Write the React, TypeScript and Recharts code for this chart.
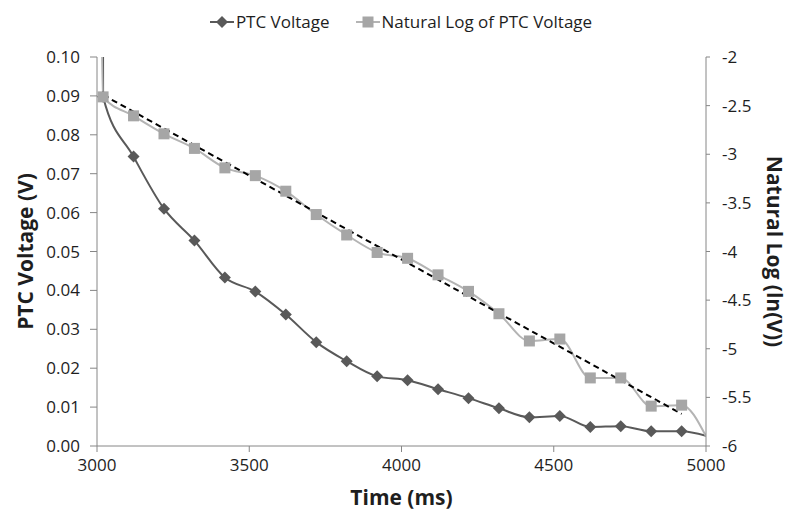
import React from "react";
import { ComposedChart, Line, XAxis, YAxis, Label } from "recharts";

// ---- data ----
const timeMs = [
  3010, 3020, 3120, 3220, 3320, 3420, 3520, 3620, 3720, 3820, 3920, 4020, 4120,
  4220, 4320, 4420, 4520, 4620, 4720, 4820, 4920, 5000,
];
const ptcVoltage = [
  0.9, 0.0898, 0.0744, 0.061, 0.0528, 0.0433, 0.0397, 0.0338, 0.0267, 0.0218,
  0.0179, 0.0169, 0.0146, 0.0123, 0.0097, 0.0074, 0.0077, 0.0049, 0.0051,
  0.0038, 0.0038, 0.0026,
];
const lnVoltage = [
  -0.11, -2.41, -2.605, -2.79, -2.94, -3.14, -3.22, -3.38, -3.62, -3.83, -4.01,
  -4.07, -4.24, -4.41, -4.64, -4.92, -4.9, -5.3, -5.3, -5.59, -5.58, -5.9,
];
const trendTime = [3020, 4920];
const trendLn = [-2.39, -5.67];

const xTicks = [3000, 3500, 4000, 4500, 5000];
const leftTicks = [0, 0.01, 0.02, 0.03, 0.04, 0.05, 0.06, 0.07, 0.08, 0.09, 0.1];
const rightTicks = [-6, -5.5, -5, -4.5, -4, -3.5, -3, -2.5, -2];

const seriesNames = ["PTC Voltage", "Natural Log of PTC Voltage"];

const rows = timeMs.map((t, i) => ({ t, ptc: ptcVoltage[i], ln: lnVoltage[i] }));
const trendRows = trendTime.map((t, i) => ({ t, trend: trendLn[i] }));

const DARK = "#595959";
const LIGHT_LINE = "#b4b4b4";
const LIGHT_FILL = "#a6a6a6";
const AXIS = "#868686";
const TEXT = "#1e1e1e";
const FONT = "'Open Sans', Lato, sans-serif";

const lastIdx = timeMs.length - 1;

const Diamond = (props: any) => {
  const { cx, cy, index } = props;
  if (index === 0 || index === lastIdx || cx == null || cy == null)
    return <g key={`d-${index}`} />;
  const r = 6;
  return (
    <path
      key={`d-${index}`}
      d={`M${cx},${cy - r}L${cx + r},${cy}L${cx},${cy + r}L${cx - r},${cy}Z`}
      fill={DARK}
    />
  );
};

const Square = (props: any) => {
  const { cx, cy, index } = props;
  if (index === 0 || index === lastIdx || cx == null || cy == null)
    return <g key={`s-${index}`} />;
  const s = 11;
  return <rect key={`s-${index}`} x={cx - s / 2} y={cy - s / 2} width={s} height={s} fill={LIGHT_FILL} />;
};

const titleStyle = { fontFamily: FONT, fontWeight: 700, fontSize: 21, fill: TEXT } as const;

const LeftTitle = (props: any) => {
  const vb = props.viewBox || {};
  const cx = vb.x + 25;
  const cy = vb.y + vb.height / 2;
  return (
    <text x={cx} y={cy} transform={`rotate(-90 ${cx} ${cy})`} textAnchor="middle" dominantBaseline="central" style={titleStyle}>
      PTC Voltage (V)
    </text>
  );
};

const RightTitle = (props: any) => {
  const vb = props.viewBox || {};
  const cx = vb.x + 69;
  const cy = vb.y + vb.height / 2;
  return (
    <text x={cx} y={cy} transform={`rotate(90 ${cx} ${cy})`} textAnchor="middle" dominantBaseline="central" style={titleStyle}>
      Natural Log (ln(V))
    </text>
  );
};

const BottomTitle = (props: any) => {
  const vb = props.viewBox || {};
  const cx = vb.x + vb.width / 2;
  const cy = vb.y + 51;
  return (
    <text x={cx} y={cy} textAnchor="middle" dominantBaseline="central" style={titleStyle}>
      Time (ms)
    </text>
  );
};

const LegendOverlay = () => (
  <div
    style={{
      position: "absolute",
      left: 0,
      top: 10,
      width: 788,
      display: "flex",
      justifyContent: "center",
      alignItems: "center",
      fontFamily: FONT,
      fontSize: 17,
      color: TEXT,
      lineHeight: "24px",
      paddingLeft: 14,
      boxSizing: "border-box",
    }}
  >
    <div style={{ display: "flex", alignItems: "center", marginRight: 26 }}>
      <svg width={24} height={14} style={{ marginRight: 2 }}>
        <line x1={0} y1={7} x2={24} y2={7} stroke={DARK} strokeWidth={2} />
        <path d="M12,1L18,7L12,13L6,7Z" fill={DARK} />
      </svg>
      <span>{seriesNames[0]}</span>
    </div>
    <div style={{ display: "flex", alignItems: "center" }}>
      <svg width={24} height={14} style={{ marginRight: 2 }}>
        <line x1={0} y1={7} x2={24} y2={7} stroke={LIGHT_LINE} strokeWidth={2} />
        <rect x={6.5} y={1.5} width={11} height={11} fill={LIGHT_FILL} />
      </svg>
      <span>{seriesNames[1]}</span>
    </div>
  </div>
);

export default function App() {
  const tickStyle = { fontFamily: FONT, fontSize: 17, fill: TEXT };
  return (
    <div style={{ position: "absolute", left: 0, top: 0, width: 788, height: 513, background: "#fff" }}>
      <ComposedChart
        width={788}
        height={513}
        data={rows}
        margin={{ top: 57, right: 0, bottom: 0, left: 0 }}
      >
        <XAxis
          dataKey="t"
          type="number"
          domain={[3000, 5000]}
          ticks={xTicks}
          allowDataOverflow
          height={67}
          stroke={AXIS}
          tickSize={6}
          tickMargin={7}
          tick={tickStyle}
          tickLine={{ stroke: AXIS }}
          axisLine={{ stroke: AXIS }}
        >
          <Label content={BottomTitle} />
        </XAxis>
        <YAxis
          yAxisId="left"
          orientation="left"
          domain={[0, 0.1]}
          ticks={leftTicks}
          allowDataOverflow
          width={97}
          tickSize={7}
          tickMargin={10}
          tickFormatter={(v: number) => v.toFixed(2)}
          tick={tickStyle}
          tickLine={{ stroke: AXIS }}
          axisLine={{ stroke: AXIS }}
          interval={0}
        >
          <Label content={LeftTitle} />
        </YAxis>
        <YAxis
          yAxisId="right"
          orientation="right"
          domain={[-6, -2]}
          ticks={rightTicks}
          allowDataOverflow
          width={82}
          tickSize={4}
          tickMargin={12}
          tick={{ ...tickStyle, textAnchor: "start" }}
          tickLine={{ stroke: AXIS }}
          axisLine={{ stroke: AXIS }}
          interval={0}
        >
          <Label content={RightTitle} />
        </YAxis>
        <Line
          yAxisId="left"
          dataKey="ptc"
          name={seriesNames[0]}
          type="monotone"
          stroke={DARK}
          strokeWidth={2}
          dot={Diamond}
          activeDot={false}
          isAnimationActive={false}
        />
        <Line
          yAxisId="right"
          dataKey="ln"
          name={seriesNames[1]}
          type="monotone"
          stroke={LIGHT_LINE}
          strokeWidth={2}
          dot={Square}
          activeDot={false}
          isAnimationActive={false}
        />
        <Line
          yAxisId="right"
          data={trendRows}
          dataKey="trend"
          type="linear"
          stroke="#000"
          strokeWidth={2}
          strokeDasharray="6 4"
          dot={false}
          activeDot={false}
          legendType="none"
          isAnimationActive={false}
        />
      </ComposedChart>
      <LegendOverlay />
    </div>
  );
}
